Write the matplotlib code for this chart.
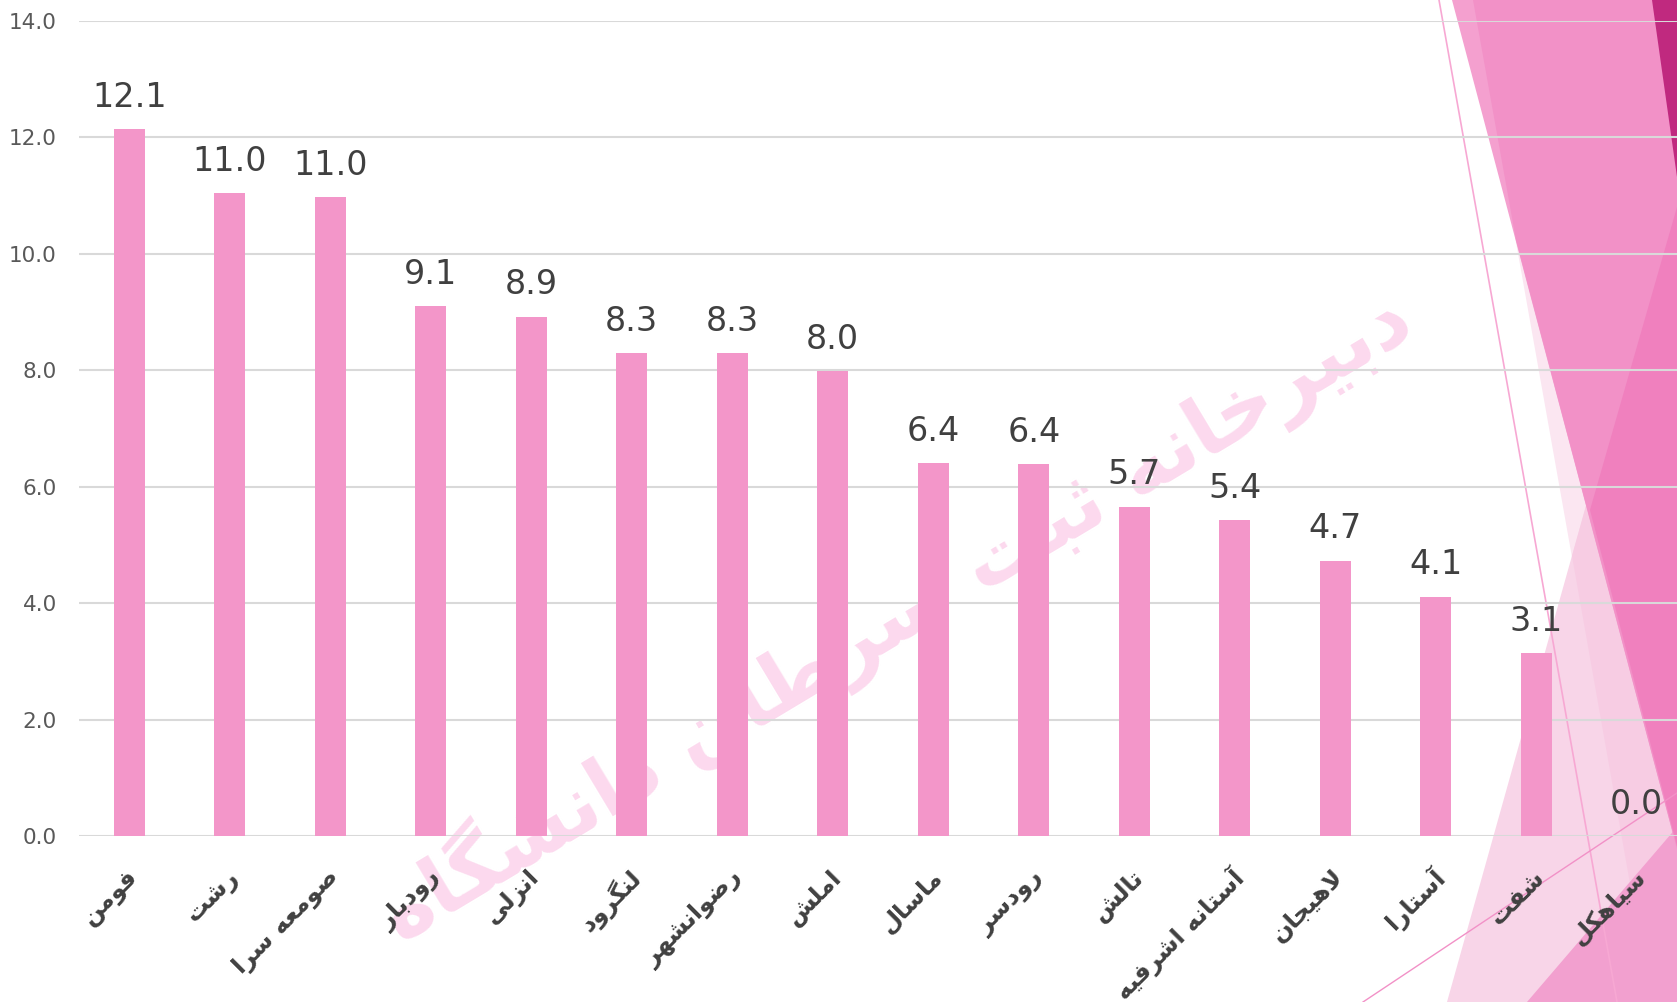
import matplotlib
matplotlib.use("Agg")
import matplotlib.pyplot as plt
import matplotlib.transforms as mtransforms
from matplotlib.patches import Polygon

# data
counties = ['فومن', 'رشت', 'صومعه سرا', 'رودبار', 'انزلی', 'لنگرود', 'رضوانشهر', 'املش',
            'ماسال', 'رودسر', 'تالش', 'آستانه اشرفیه', 'لاهیجان', 'آستارا', 'شفت', 'سیاهکل']
rates = [12.14, 11.04, 10.98, 9.10, 8.92, 8.30, 8.30, 7.99,
         6.41, 6.39, 5.66, 5.43, 4.73, 4.11, 3.14, 0.0]
yticks = [0, 2, 4, 6, 8, 10, 12, 14]
watermark = 'دبیرخانه ثبت سرطان دانشگاه'

# matplotlib does no arabic shaping, so pick presentation forms by hand
FORMS = {
    'ا': ('\uFE8D', '\uFE8E', None, None),
    'آ': ('\uFE81', '\uFE82', None, None),
    'ب': ('\uFE8F', '\uFE90', '\uFE91', '\uFE92'),
    'پ': ('\uFB56', '\uFB57', '\uFB58', '\uFB59'),
    'ت': ('\uFE95', '\uFE96', '\uFE97', '\uFE98'),
    'ث': ('\uFE99', '\uFE9A', '\uFE9B', '\uFE9C'),
    'ج': ('\uFE9D', '\uFE9E', '\uFE9F', '\uFEA0'),
    'خ': ('\uFEA5', '\uFEA6', '\uFEA7', '\uFEA8'),
    'د': ('\uFEA9', '\uFEAA', None, None),
    'ر': ('\uFEAD', '\uFEAE', None, None),
    'ز': ('\uFEAF', '\uFEB0', None, None),
    'س': ('\uFEB1', '\uFEB2', '\uFEB3', '\uFEB4'),
    'ش': ('\uFEB5', '\uFEB6', '\uFEB7', '\uFEB8'),
    'ص': ('\uFEB9', '\uFEBA', '\uFEBB', '\uFEBC'),
    'ض': ('\uFEBD', '\uFEBE', '\uFEBF', '\uFEC0'),
    'ط': ('\uFEC1', '\uFEC2', '\uFEC3', '\uFEC4'),
    'ع': ('\uFEC9', '\uFECA', '\uFECB', '\uFECC'),
    'ف': ('\uFED1', '\uFED2', '\uFED3', '\uFED4'),
    'ک': ('\uFB8E', '\uFB8F', '\uFB90', '\uFB91'),
    'گ': ('\uFB92', '\uFB93', '\uFB94', '\uFB95'),
    'ل': ('\uFEDD', '\uFEDE', '\uFEDF', '\uFEE0'),
    'م': ('\uFEE1', '\uFEE2', '\uFEE3', '\uFEE4'),
    'ن': ('\uFEE5', '\uFEE6', '\uFEE7', '\uFEE8'),
    'و': ('\uFEED', '\uFEEE', None, None),
    'ه': ('\uFEE9', '\uFEEA', '\uFEEB', '\uFEEC'),
    'ی': ('\uFBFC', '\uFBFD', '\uFBFE', '\uFBFF'),
}
LAMALEF = {'ا': ('\uFEFB', '\uFEFC'), 'آ': ('\uFEF5', '\uFEF6')}


def shape(word):
    out = []
    i = 0
    n = len(word)
    while i < n:
        ch = word[i]
        if ch not in FORMS:
            out.append(ch)
            i += 1
            continue
        prev = word[i-1] if i > 0 else ''
        jp = prev in FORMS and FORMS[prev][2] is not None
        if ch == 'ل' and i+1 < n and word[i+1] in LAMALEF:
            lig = LAMALEF[word[i+1]]
            out.append(lig[1] if jp else lig[0])
            i += 2
            continue
        nxt = word[i+1] if i+1 < n else ''
        f = FORMS[ch]
        jn = f[2] is not None and nxt in FORMS
        if jp and jn:
            out.append(f[3])
        elif jp:
            out.append(f[1])
        elif jn:
            out.append(f[2])
        else:
            out.append(f[0])
        i += 1
    return ''.join(reversed(out))


W, H = 1677, 1002
fig = plt.figure(figsize=(W/100, H/100), dpi=100)

# background decoration, pixel coords
bg = fig.add_axes([0, 0, 1, 1], zorder=0)
bg.set_xlim(0, W)
bg.set_ylim(H, 0)
bg.axis('off')
shapes = [
    ([(1473, 0), (1677, 0), (1677, 1002), (1651, 1002)], '#fbe6f1'),
    ([(1447, 1002), (1610, 420), (1677, 420), (1677, 1002)], '#f8d5e8'),
    ([(1610, 420), (1572, 556), (1651, 1002), (1677, 1002), (1677, 420)], '#f7cce3'),
    ([(1527, 1002), (1677, 827), (1677, 1002)], '#f2a0cf'),
    ([(1452, 0), (1677, 0), (1677, 849)], '#f4a0cf'),
    ([(1473, 0), (1677, 0), (1677, 849), (1516, 240)], '#f291c7'),
    ([(1590, 510), (1677, 207), (1677, 846)], '#f080be'),
    ([(1652, 0), (1677, 0), (1677, 177)], '#c0297f'),
]
for pts, c in shapes:
    bg.add_patch(Polygon(pts, closed=True, facecolor=c, edgecolor='none'))
bg.plot([1439, 1617], [0, 1002], color='#f7a8d3', lw=1.2)
bg.plot([1363, 1677], [1002, 793], color='#f291c7', lw=1.0)

ax = fig.add_axes([79/W, 1 - 836/H, 1608/W, 815/H], zorder=1)
ax.set_facecolor('none')
x = list(range(len(counties)))
ax.bar(x, rates, width=0.31, color='#f396c9', zorder=2)
for xi, v in zip(x, rates):
    ax.annotate('%.1f' % v, (xi, v), xytext=(0, 11), textcoords='offset points',
                ha='center', va='bottom', fontsize=24, color='#404040', zorder=3)

# watermark under the tick labels
ax.text(895, H - 615, shape(watermark), transform=None, rotation=31,
        fontsize=59, fontweight='bold', color='#fcd9ee', ha='center', va='center',
        zorder=0.3)

ax.set_xlim(-0.5, 15.5)
ax.set_ylim(0, 14)
ax.set_yticks(yticks)
ax.set_yticklabels(['%.1f' % t for t in yticks])
ax.yaxis.grid(True, color='#d9d9d9', lw=1.5)
ax.set_axisbelow(True)
for s in ax.spines.values():
    s.set_visible(False)
ax.tick_params(axis='y', length=0, pad=16, labelsize=15.5, labelcolor='#595959')
ax.set_xticks(x)
ax.set_xticklabels([shape(c) for c in counties], rotation=45, ha='right',
                   va='center', rotation_mode='anchor', fontsize=17.5,
                   fontweight='bold', color='#404040')
ax.tick_params(axis='x', length=0, pad=27)
shift = mtransforms.ScaledTranslation(5/100, 0, fig.dpi_scale_trans)
for lab in ax.get_xticklabels():
    lab.set_transform(lab.get_transform() + shift)

fig.savefig('out.png', dpi=100)
